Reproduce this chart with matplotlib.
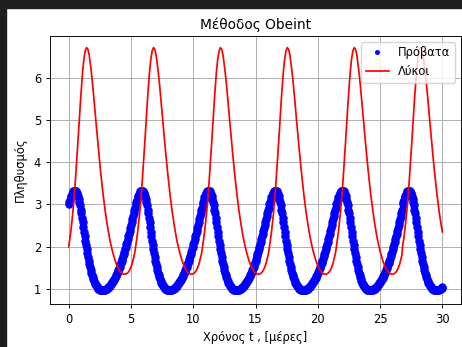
import numpy as np
import matplotlib
matplotlib.use('Agg')
import matplotlib.pyplot as plt
from matplotlib.patches import Rectangle

# time axis (days), 565 samples from 0 to 30
t = np.linspace(0, 30, 565)

# The six cycles in the chart are identical, so one cycle is read off
# (101 samples, ~5.37 days) and repeated; the last one is cut at t = 30.
prey_cycle = [
    3.00, 3.06, 3.11, 3.17, 3.21, 3.25, 3.28, 3.31, 3.32, 3.33,
    3.32, 3.31, 3.28, 3.24, 3.19, 3.13, 3.05, 2.98, 2.88, 2.79,
    2.68, 2.58, 2.47, 2.36, 2.25, 2.14, 2.04, 1.94, 1.84, 1.75,
    1.67, 1.59, 1.51, 1.45, 1.38, 1.33, 1.28, 1.23, 1.19, 1.15,
    1.12, 1.09, 1.07, 1.04, 1.03, 1.01, 1.00, 0.98, 0.98, 0.97,
    0.97, 0.97, 0.97, 0.97, 0.97, 0.98, 0.99, 1.00, 1.01, 1.02,
    1.04, 1.05, 1.07, 1.09, 1.11, 1.13, 1.16, 1.18, 1.21, 1.24,
    1.27, 1.30, 1.34, 1.37, 1.41, 1.45, 1.49, 1.53, 1.58, 1.62,
    1.67, 1.72, 1.77, 1.82, 1.88, 1.94, 2.00, 2.06, 2.12, 2.18,
    2.25, 2.31, 2.38, 2.45, 2.51, 2.58, 2.65, 2.72, 2.79, 2.86,
    2.92,
]

wolves_cycle = [
    2.00, 2.10, 2.21, 2.33, 2.47, 2.61, 2.77, 2.94, 3.13, 3.33,
    3.54, 3.77, 4.00, 4.25, 4.49, 4.75, 5.00, 5.25, 5.49, 5.72,
    5.92, 6.13, 6.28, 6.44, 6.53, 6.63, 6.67, 6.71, 6.69, 6.67,
    6.60, 6.53, 6.41, 6.30, 6.16, 6.02, 5.86, 5.70, 5.52, 5.35,
    5.17, 4.99, 4.81, 4.64, 4.46, 4.30, 4.13, 3.97, 3.81, 3.66,
    3.51, 3.37, 3.23, 3.10, 2.98, 2.86, 2.75, 2.64, 2.54, 2.44,
    2.35, 2.26, 2.18, 2.10, 2.03, 1.96, 1.90, 1.84, 1.78, 1.73,
    1.68, 1.63, 1.59, 1.55, 1.52, 1.49, 1.46, 1.44, 1.41, 1.39,
    1.38, 1.37, 1.36, 1.35, 1.35, 1.35, 1.35, 1.36, 1.37, 1.38,
    1.40, 1.42, 1.45, 1.48, 1.52, 1.56, 1.61, 1.67, 1.73, 1.80,
    1.88,
]

prey = prey_cycle * 4 + prey_cycle[:100] + prey_cycle[:61]
wolves = wolves_cycle * 4 + wolves_cycle[:100] + wolves_cycle[:61]

x_ticks = [0, 5, 10, 15, 20, 25, 30]
y_ticks = [1, 2, 3, 4, 5, 6]

W, H = 462, 347
fig = plt.figure(figsize=(W / 100, H / 100), dpi=100)

# dark screenshot frame along the top and left edges
fig.add_artist(Rectangle((0, 1 - 8 / H), 1, 8 / H, transform=fig.transFigure,
                         color='#1e1e1e', zorder=10))
fig.add_artist(Rectangle((0, 0), 6 / W, 1, transform=fig.transFigure,
                         color='#1e1e1e', zorder=10))

ax = fig.add_axes([50 / W, 43 / H, 411 / W, 268 / H])
ax.plot(t, prey, 'b.', ms=10.5, mew=0.8, label='Πρόβατα')
ax.plot(t, wolves, 'r-', lw=1.25, label='Λύκοι')

ax.set_xlim(-1.5, 31.5)
ax.set_ylim(0.645, 6.985)
ax.set_xticks(x_ticks)
ax.set_yticks(y_ticks)
ax.grid(True, color='#b0b0b0', lw=0.7)
ax.tick_params(labelsize=8.3, length=2.9, width=0.66)
for s in ax.spines.values():
    s.set_linewidth(0.66)

ax.set_title('Μέθοδος Obeint', fontsize=9.9, pad=5)
ax.set_xlabel('Χρόνος t , [μέρες]', fontsize=8.3, labelpad=4)
ax.set_ylabel('Πληθυσμός', fontsize=8.3, labelpad=5)
ax.legend(loc='upper right', fontsize=8.3, markerscale=0.52)

fig.savefig('out.png', dpi=100)
